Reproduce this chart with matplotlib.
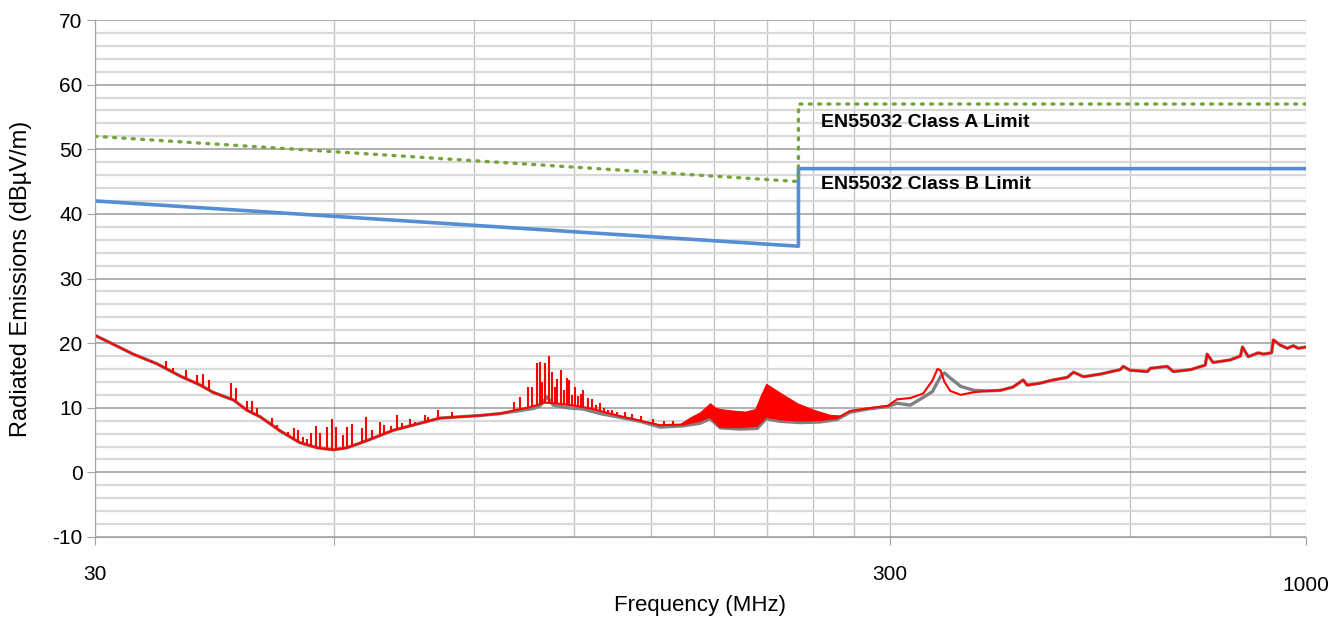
import numpy as np
import matplotlib
matplotlib.use('Agg')
import matplotlib.pyplot as plt
from matplotlib.ticker import FixedLocator, NullFormatter, FixedFormatter

plt.rcParams['font.family'] = ['Liberation Sans', 'DejaVu Sans']
plt.rcParams['axes.unicode_minus'] = False

# EN55032 limits (MHz, dBuV/m)
class_b_freq = [30, 230, 230, 1000]
class_b_level = [42, 35, 47, 47]
class_a_freq = [30, 230, 230, 1000]
class_a_level = [52, 45, 57, 57]

# red trace - floor of the measurement
red_freq = [30, 31.3, 33.5, 35.9, 38.4, 40.7, 42.2, 44.8, 46.6, 48.4, 51.3, 54.3, 57.1, 59.8,
            62.2, 65.9, 71.1, 76.9, 81.5, 86.3, 91.5, 97.0, 101.9, 105.8, 110.4, 115.4, 120.5,
            125.8, 131.4, 137.3, 145.4, 154.1, 164.7, 173.0, 178.1, 183.4, 194.3, 204.1, 209.5,
            218.2, 231.2, 245.0, 257.3, 267, 281, 298, 306, 318, 330, 339, 344, 347, 351, 357,
            368, 382, 397, 413, 428, 441, 446, 463, 481, 501, 510, 525, 551, 584, 589, 601, 632,
            637, 669, 681, 716, 747, 751, 764, 803, 827, 832, 846, 871, 884, 905, 910, 928, 947,
            964, 978, 1000]
red_level = [21.2, 20.1, 18.3, 16.8, 14.9, 13.5, 12.4, 11.2, 9.6, 8.6, 6.4, 4.6, 3.8, 3.5,
             3.8, 4.9, 6.5, 7.6, 8.4, 8.6, 8.8, 9.1, 9.7, 10.1, 10.8, 10.6, 10.3,
             9.9, 9.3, 8.7, 8.0, 7.3, 7.4, 8.0, 8.6, 7.0, 7.0, 7.2, 8.6,
             8.2, 8.0, 8.1, 8.4, 9.5, 9.9, 10.3, 11.3, 11.5, 12.2, 14.2, 16.0, 15.8, 14.0, 12.6,
             12.0, 12.4, 12.6, 12.7, 13.2, 14.3, 13.5, 13.8, 14.3, 14.7, 15.5, 14.8, 15.2, 15.9,
             16.4, 15.8, 15.6, 16.1, 16.4, 15.6, 15.9, 16.6, 18.3, 17.0, 17.4, 18.0, 19.4, 17.9,
             18.5, 18.3, 18.5, 20.5, 19.7, 19.2, 19.6, 19.2, 19.4]

# red trace - narrow spikes
spike_freq = [36.9, 37.6, 39.05, 40.3, 41.0, 41.7, 44.5, 45.1, 46.6, 47.3, 48.0, 50.1, 50.8,
              52.5, 53.4, 54.0, 54.8, 55.4, 56.1, 56.9, 57.6, 58.7, 59.6, 60.3, 61.5, 62.2,
              63.2, 65.0, 65.8, 66.9, 68.5, 69.3, 70.7, 71.9, 73.0, 74.7, 75.8, 78.0, 78.7,
              81.0, 84.4,
              101.0, 102.7, 105.1, 106.4, 107.9, 108.8, 109.6, 110.4, 111.7, 112.7, 113.5,
              114.3, 115.7, 116.7, 117.7, 118.4, 119.5, 120.5, 121.5, 122.6, 123.3, 124.9,
              126.6, 128.0, 129.5, 131.0, 132.6, 134.0, 136.0, 139.0, 142.0, 146.0, 151.0,
              156.0, 160.0]
spike_top = [17.2, 16.2, 15.8, 15.1, 15.2, 14.3, 13.8, 13.1, 11.0, 11.1, 10.0, 8.4, 7.3,
             6.3, 6.8, 6.6, 5.5, 5.1, 6.1, 7.2, 6.1, 7.0, 8.2, 7.0, 5.8, 7.0,
             7.5, 6.8, 8.6, 6.6, 7.8, 7.3, 7.2, 8.9, 7.7, 8.2, 7.8, 8.9, 8.6,
             9.7, 9.4,
             10.9, 11.7, 13.2, 13.2, 16.9, 17.1, 14.0, 16.9, 18.0, 15.5, 13.2,
             14.4, 15.9, 12.8, 14.6, 14.3, 12.0, 13.2, 11.8, 12.2, 12.7, 11.5,
             11.3, 10.5, 10.7, 10.0, 9.7, 9.6, 9.3, 9.3, 9.0, 8.7, 8.2,
             7.9, 8.0]

# red trace - dense comb around 165-260 MHz (drawn as a band)
band_freq = [163.3, 168.1, 173.0, 178.1, 180.8, 183.4, 188.8, 197.2, 203.0, 205.9, 209.5,
             212.0, 218.2, 229.1, 240.0, 252.1, 259.5]
band_low = [7.3, 7.4, 7.9, 8.6, 8.0, 7.0, 6.9, 6.9, 7.1, 7.8, 8.6, 8.5, 8.2, 8.0, 8.0, 8.2, 8.6]
band_high = [7.5, 8.5, 9.3, 10.7, 10.0, 9.8, 9.6, 9.4, 9.8, 11.7, 13.7, 13.3, 12.3, 10.7,
             9.7, 8.9, 8.8]

# gray trace
gray_freq = [30, 31.3, 33.5, 35.9, 38.4, 40.7, 42.2, 44.8, 46.6, 48.4, 51.3, 54.3, 57.1, 59.8,
             62.2, 65.9, 71.1, 76.9, 81.5, 86.3, 91.5, 97.0, 101.9, 106.9, 108.8, 111.1, 113.1,
             117.7, 123.3, 129.5, 136.0, 145.4, 154.1, 164.7, 173.0, 178.1, 183.4, 194.3, 204.1,
             209.5, 218.2, 231.2, 245.0, 257.3, 267, 281, 298, 306, 318, 330, 339, 347, 351,
             357, 368, 382, 397, 413, 428, 441, 446, 463, 481, 501, 510, 525, 551, 584, 589,
             601, 632, 637, 669, 681, 716, 747, 751, 764, 803, 827, 832, 846, 871, 884, 905,
             910, 928, 947, 964, 978, 1000]
gray_level = [21.2, 20.1, 18.3, 16.8, 14.9, 13.5, 12.4, 11.2, 9.6, 8.6, 6.4, 4.6, 3.8, 3.5,
              3.8, 4.9, 6.5, 7.6, 8.4, 8.6, 8.8, 9.1, 9.5, 9.9, 10.3, 11.7, 10.4,
              10.0, 9.8, 9.1, 8.6, 7.9, 7.0, 7.2, 7.6, 8.3, 6.9, 6.7, 6.8,
              8.3, 7.9, 7.7, 7.8, 8.2, 9.3, 9.8, 10.2, 10.7, 10.4, 11.6, 12.5, 14.8, 15.4,
              14.6, 13.3, 12.7, 12.6, 12.7, 13.2, 14.3, 13.5, 13.8, 14.3, 14.7, 15.5, 14.8,
              15.2, 15.9, 16.4, 15.8, 15.6, 16.1, 16.4, 15.6, 15.9, 16.6, 18.3, 17.0, 17.4,
              18.0, 19.4, 17.9, 18.5, 18.3, 18.5, 20.5, 19.7, 19.2, 19.6, 19.2, 19.4]

x_ticks = [30, 60, 300, 1000]
x_tick_labels = ['30', '', '300', '1000']
x_grid = [90, 120, 150, 180, 210, 240, 270, 600, 900]


fig = plt.figure(figsize=(13.41, 6.21), dpi=100)
ax = fig.add_axes([95 / 1341, 84 / 621, 1211 / 1341, 517 / 621])

ax.set_xscale('log')
ax.set_xlim(30, 1000)
ax.set_ylim(-10, 70)

# grid
ax.set_axisbelow(True)
ax.xaxis.set_major_locator(FixedLocator(x_ticks))
ax.xaxis.set_major_formatter(FixedFormatter(x_tick_labels))
ax.xaxis.set_minor_locator(FixedLocator(x_grid))
ax.xaxis.set_minor_formatter(NullFormatter())
ax.set_yticks(np.arange(-10, 71, 10))
ax.set_yticks(np.arange(-10, 71, 2), minor=True)
ax.grid(axis='x', which='both', color='#C4C4C4', lw=1.0)
ax.grid(axis='y', which='minor', color='#D9D9D9', lw=1.6)
ax.grid(axis='y', which='major', color='#A3A3A3', lw=1.2)

# traces
ax.plot(gray_freq, gray_level, color='#808080', lw=2.4, solid_joinstyle='round')
spike_base = np.interp(np.log(spike_freq), np.log(red_freq), red_level)
ax.vlines(spike_freq, spike_base, spike_top, color='#FF0000', lw=1.5)
ax.fill_between(band_freq, band_low, band_high, color='#FF0000', lw=0.8, edgecolor='#FF0000')
ax.plot(red_freq, red_level, color='#FF0000', lw=1.5)

# limits
ax.plot(class_b_freq, class_b_level, color='#558ED5', lw=2.6)
ax.plot(class_a_freq, class_a_level, color='#77A33C', lw=2.4, linestyle=(0, (0.6, 2.2)),
        dash_capstyle='round')
ax.text(245.7, 54.2, 'EN55032 Class A Limit', fontsize=14, fontweight='bold', va='center')
ax.text(245.7, 44.5, 'EN55032 Class B Limit', fontsize=14, fontweight='bold', va='center')

# axes styling
for side in ['top', 'right']:
    ax.spines[side].set_visible(False)
ax.spines['left'].set_color('#A3A3A3')
ax.spines['bottom'].set_color('#A3A3A3')
ax.tick_params(axis='y', which='major', length=6, color='#A3A3A3', labelsize=15, pad=3)
ax.tick_params(axis='y', which='minor', length=0)
ax.tick_params(axis='x', which='major', length=6, color='#A3A3A3', labelsize=15, pad=14)
ax.tick_params(axis='x', which='minor', length=0)
ax.xaxis.get_major_ticks()[3].set_pad(22)

ax.set_xlabel('Frequency (MHz)', fontsize=16)
ax.xaxis.set_label_coords(0.5, -0.112)
ax.set_ylabel('Radiated Emissions (dBµV/m)', fontsize=17)
ax.yaxis.set_label_coords(-0.052, 0.5)

fig.savefig('out.png', dpi=100)
